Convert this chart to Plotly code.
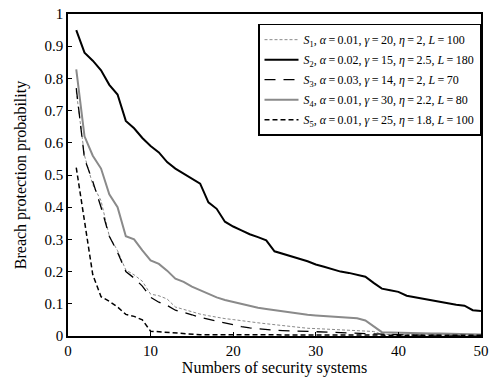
import plotly.graph_objects as go

x_vals = list(range(1, 51))

s1 = [0.76, 0.56, 0.47, 0.42, 0.31, 0.265, 0.205, 0.19, 0.17, 0.13,
      0.125, 0.115, 0.09, 0.082, 0.075, 0.068, 0.063, 0.058, 0.054, 0.051,
      0.047, 0.044, 0.041, 0.038, 0.035, 0.032, 0.03, 0.027, 0.024, 0.023,
      0.022, 0.021, 0.02, 0.019, 0.018, 0.016, 0.014, 0.005, 0.004, 0.004,
      0.004, 0.004, 0.004, 0.004, 0.003, 0.003, 0.003, 0.003, 0.003, 0.003]

s2 = [0.95, 0.88, 0.855, 0.825, 0.78, 0.75, 0.668, 0.645, 0.615, 0.59,
      0.57, 0.54, 0.52, 0.505, 0.49, 0.473, 0.415, 0.395, 0.355, 0.34,
      0.328, 0.316, 0.307, 0.297, 0.263, 0.256, 0.248, 0.24, 0.232, 0.222,
      0.215, 0.207, 0.2, 0.196, 0.19, 0.184, 0.165, 0.147, 0.142, 0.137,
      0.125, 0.12, 0.115, 0.111, 0.107, 0.1, 0.097, 0.094, 0.08, 0.078]

s3 = [0.77, 0.55, 0.48, 0.40, 0.31, 0.26, 0.20, 0.18, 0.155, 0.12,
      0.105, 0.095, 0.08, 0.074, 0.066, 0.058, 0.052, 0.046, 0.04, 0.034,
      0.029, 0.025, 0.022, 0.02, 0.018, 0.017, 0.016, 0.015, 0.013, 0.012,
      0.011, 0.01, 0.009, 0.008, 0.008, 0.007, 0.006, 0.004, 0.003, 0.003,
      0.003, 0.003, 0.003, 0.003, 0.003, 0.003, 0.003, 0.003, 0.003, 0.003]

s4 = [0.828, 0.62, 0.56, 0.52, 0.44, 0.40, 0.31, 0.30, 0.266, 0.235,
      0.224, 0.203, 0.178, 0.168, 0.153, 0.142, 0.13, 0.12, 0.112, 0.106,
      0.1, 0.093, 0.088, 0.084, 0.08, 0.076, 0.072, 0.069, 0.066, 0.064,
      0.062, 0.06, 0.059, 0.057, 0.055, 0.048, 0.03, 0.012, 0.011, 0.01,
      0.0095, 0.009, 0.0085, 0.008, 0.0075, 0.007, 0.0065, 0.006, 0.0055, 0.005]

s5 = [0.523, 0.35, 0.19, 0.122, 0.108, 0.09, 0.067, 0.061, 0.05, 0.015,
      0.013, 0.011, 0.009, 0.006, 0.005, 0.004, 0.004, 0.004, 0.004, 0.004,
      0.003, 0.003, 0.003, 0.003, 0.003, 0.003, 0.003, 0.003, 0.003, 0.003,
      0.003, 0.003, 0.003, 0.003, 0.003, 0.003, 0.003, 0.002, 0.002, 0.002,
      0.002, 0.002, 0.002, 0.002, 0.002, 0.002, 0.002, 0.002, 0.002, 0.002]

EQ = "\u2009=\u2009"
params = [
    ("1", "0.01", "20", "2", "100"),
    ("2", "0.02", "15", "2.5", "180"),
    ("3", "0.03", "14", "2", "70"),
    ("4", "0.01", "30", "2.2", "80"),
    ("5", "0.01", "25", "1.8", "100"),
]
names = [
    f"<i>S</i><sub>{k}</sub>, <i>α</i>{EQ}{a}, <i>γ</i>{EQ}{g}, <i>η</i>{EQ}{e}, <i>L</i>{EQ}{l}"
    for k, a, g, e, l in params
]

styles = [
    dict(color="#8a8a8a", width=1, dash="3px,2px"),
    dict(color="black", width=2),
    dict(color="black", width=1.3, dash="11px,8px"),
    dict(color="#8a8a8a", width=2),
    dict(color="black", width=1.5, dash="5px,3px"),
]

fig = go.Figure()
for i, (ys, nm, st) in enumerate(zip([s1, s2, s3, s4, s5], names, styles)):
    fig.add_trace(go.Scatter(x=x_vals, y=ys, mode="lines", name=nm, line=st,
                             legendgroup=f"g{i}"))

font_family = "Liberation Serif, Times New Roman, serif"
fig.update_layout(
    width=495, height=380,
    margin=dict(l=68, r=6, t=11, b=42),
    paper_bgcolor="white", plot_bgcolor="white",
    font=dict(family=font_family, size=15, color="black"),
    legend=dict(
        x=1.0, y=0.97, xanchor="right", yanchor="top",
        bordercolor="black", borderwidth=1.5, bgcolor="white",
        font=dict(size=12, family=font_family), tracegroupgap=1,
        itemwidth=34,
    ),
    xaxis=dict(
        range=[0, 50], tickvals=[0, 10, 20, 30, 40, 50],
        showgrid=False, zeroline=False, showline=True, linecolor="black",
        linewidth=1.5, mirror=True, ticks="inside", ticklen=4, tickwidth=1,
        tickcolor="black", tickfont=dict(size=15),
        title=dict(text="Numbers of security systems", standoff=4,
                   font=dict(size=16)),
    ),
    yaxis=dict(
        range=[0, 1], tickvals=[0, 0.1, 0.2, 0.3, 0.4, 0.5, 0.6, 0.7, 0.8, 0.9, 1],
        showgrid=False, zeroline=False, showline=True, linecolor="black",
        linewidth=1.5, mirror=True, ticks="inside", ticklen=4, tickwidth=1,
        tickcolor="black", tickfont=dict(size=15),
        title=dict(text="Breach protection probability", standoff=14,
                   font=dict(size=16)),
    ),
)

fig.write_html("out.html")
